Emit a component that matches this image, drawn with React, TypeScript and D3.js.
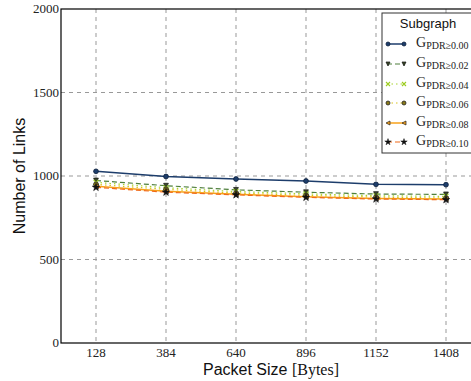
import React from "react";
import * as d3 from "d3";

const packetSizes = [128, 384, 640, 896, 1152, 1408];
const xTicks = [128, 384, 640, 896, 1152, 1408];
const yTicks = [0, 500, 1000, 1500, 2000];

const g000 = [1028, 997, 982, 970, 950, 948];
const g002 = [973, 942, 917, 903, 892, 890];
const g004 = [962, 930, 907, 893, 882, 878];
const g006 = [950, 920, 898, 884, 874, 868];
const g008 = [938, 908, 890, 876, 866, 862];
const g010 = [932, 903, 887, 872, 862, 858];

const seriesLabels = ["0.00", "0.02", "0.04", "0.06", "0.08", "0.10"];

type Style = { color: string; dash: string; marker: string; mfill: string; mstroke: string; width: number };
const styles: Style[] = [
  { color: "#1d3d6b", dash: "", marker: "circle", mfill: "#1d3d6b", mstroke: "#0d1f3a", width: 1.5 },
  { color: "#4f7f3c", dash: "5,3", marker: "tri-down", mfill: "#3c4a2a", mstroke: "#111", width: 1.2 },
  { color: "#a8d42c", dash: "1.5,3", marker: "x", mfill: "none", mstroke: "#9ccc20", width: 1.2 },
  { color: "#d9c21c", dash: "1.5,3", marker: "circle", mfill: "#8a7a18", mstroke: "#222", width: 1.2 },
  { color: "#f7a21b", dash: "", marker: "tri-left", mfill: "#f7a21b", mstroke: "#222", width: 1.5 },
  { color: "#f06a1a", dash: "5,3", marker: "star", mfill: "#111", mstroke: "#111", width: 1.2 },
];

const allSeries = [g000, g002, g004, g006, g008, g010];

const W = 471, H = 381;
const left = 61, right = 481, top = 9, bottom = 343;

function Marker({ type, x, y, fill, stroke, s = 2.4 }: { type: string; x: number; y: number; fill: string; stroke: string; s?: number }) {
  if (type === "circle") return <circle cx={x} cy={y} r={s} fill={fill} stroke={stroke} strokeWidth={0.8} />;
  if (type === "tri-down")
    return <path d={`M${x - s},${y - s}L${x + s},${y - s}L${x},${y + s}Z`} fill={fill} stroke={stroke} strokeWidth={0.7} />;
  if (type === "tri-left")
    return <path d={`M${x + s},${y - s}L${x + s},${y + s}L${x - s},${y}Z`} fill={fill} stroke={stroke} strokeWidth={0.7} />;
  if (type === "x")
    return <path d={`M${x - s},${y - s}L${x + s},${y + s}M${x - s},${y + s}L${x + s},${y - s}`} stroke={stroke} strokeWidth={1.1} />;
  if (type === "star") {
    const sym = d3.symbol(d3.symbolStar, s * s * 3.2)();
    return <path d={sym || ""} transform={`translate(${x},${y})`} fill={fill} stroke={stroke} strokeWidth={0.5} />;
  }
  return null;
}

export default function App() {
  const x = d3.scaleLinear().domain([0, 1536]).range([left, right]);
  const y = d3.scaleLinear().domain([0, 2000]).range([bottom, top]);
  const line = d3
    .line<number>()
    .x((_, i) => x(packetSizes[i]))
    .y((d) => y(d));

  const legX = 382, legY = 13, legH = 140;
  const rowY = [44, 64, 84, 103, 123, 142];

  return (
    <svg width={W} height={H} style={{ position: "absolute", left: 0, top: 0 }}>
      <rect width={W} height={H} fill="#fff" />
      {xTicks.map((t) => (
        <line key={"gx" + t} x1={x(t)} x2={x(t)} y1={top} y2={bottom} stroke="#999" strokeDasharray="4,4" strokeWidth={1} />
      ))}
      {yTicks.slice(1, -1).map((t) => (
        <line key={"gy" + t} x1={left} x2={right} y1={y(t)} y2={y(t)} stroke="#999" strokeDasharray="4,4" strokeWidth={1} />
      ))}
      <rect x={left} y={top} width={right - left} height={bottom - top} fill="none" stroke="#000" strokeWidth={1.2} />
      {yTicks.map((t) => (
        <text key={"yt" + t} x={left - 2} y={y(t) + 4} textAnchor="end" fontFamily="Liberation Serif" fontSize={13} fill="#222">
          {t}
        </text>
      ))}
      {xTicks.map((t) => (
        <text key={"xt" + t} x={x(t)} y={357} textAnchor="middle" fontFamily="Liberation Serif" fontSize={13} fill="#222">
          {t}
        </text>
      ))}
      <text x={271} y={375} textAnchor="middle" fontSize={16} fill="#111" fontFamily="Liberation Sans">
        Packet Size <tspan fontFamily="Liberation Serif" fontSize={16}>[Bytes]</tspan>
      </text>
      <text transform={`translate(25,${(top + bottom) / 2}) rotate(-90)`} textAnchor="middle" fontSize={16} fill="#111" fontFamily="Liberation Sans">
        Number of Links
      </text>
      {allSeries.map((s, k) => (
        <path key={"l" + k} d={line(s) || ""} fill="none" stroke={styles[k].color} strokeWidth={styles[k].width} strokeDasharray={styles[k].dash} />
      ))}
      {allSeries.map((s, k) =>
        s.map((v, i) => (
          <Marker key={`m${k}-${i}`} type={styles[k].marker} x={x(packetSizes[i])} y={y(v)} fill={styles[k].mfill} stroke={styles[k].mstroke} />
        ))
      )}
      <rect x={legX} y={legY} width={100} height={legH} fill="#fff" stroke="#333" strokeWidth={1} />
      <text x={428} y={28} textAnchor="middle" fontFamily="Liberation Sans" fontSize={13} fill="#111">
        Subgraph
      </text>
      {seriesLabels.map((lab, k) => (
        <g key={"leg" + k}>
          <line x1={387} x2={405} y1={rowY[k]} y2={rowY[k]} stroke={styles[k].color} strokeWidth={styles[k].width} strokeDasharray={styles[k].dash} />
          <Marker type={styles[k].marker} x={388} y={rowY[k]} fill={styles[k].mfill} stroke={styles[k].mstroke} s={2} />
          <Marker type={styles[k].marker} x={404} y={rowY[k]} fill={styles[k].mfill} stroke={styles[k].mstroke} s={2} />
          <text x={416} y={rowY[k] + 3} fontFamily="Liberation Serif" fontSize={14} fill="#222">
            G<tspan fontSize={10} dy={2}>{"PDR\u2265" + lab}</tspan>
          </text>
        </g>
      ))}
    </svg>
  );
}
